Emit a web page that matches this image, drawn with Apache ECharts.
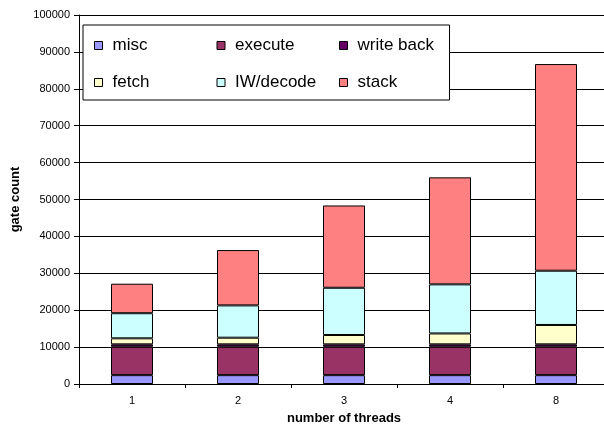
<!DOCTYPE html>
<html>
<head>
<meta charset="utf-8">
<script src="https://cdn.jsdelivr.net/npm/echarts@6/dist/echarts.min.js"></script>
<style>
  html, body { margin: 0; padding: 0; background: #fff; }
  #chart { width: 604px; height: 425px; }
</style>
</head>
<body>
<div id="chart"></div>
<script>
var threads = ['1', '2', '3', '4', '8'];
var misc = [2400, 2400, 2400, 2400, 2400];
var execute = [7700, 7700, 7700, 7700, 7700];
var writeBack = [650, 650, 650, 650, 650];
var fetch = [1630, 1800, 2530, 2950, 5250];
var iwDecode = [6800, 8750, 12800, 13300, 14700];
var stack = [8000, 15000, 22300, 29000, 56000];

var names = ['misc', 'execute', 'write back', 'fetch', 'IW/decode', 'stack'];
var colors = ['#9999ff', '#993366', '#660066', '#ffffcc', '#ccffff', '#ff8080'];
var values = [misc, execute, writeBack, fetch, iwDecode, stack];

var series = [];
for (var i = 0; i < names.length; i++) {
    series.push({
        name: names[i],
        type: 'bar',
        stack: 'total',
        barWidth: 42,
        data: values[i],
        itemStyle: {
            color: colors[i],
            borderColor: '#000',
            borderWidth: 1
        }
    });
}

var chart = echarts.init(document.getElementById('chart'));
chart.setOption({
    animation: false,
    textStyle: { fontFamily: 'Liberation Sans, Arial, sans-serif' },
    grid: { left: 79, right: -5, top: 15, bottom: 41, containLabel: false, outerBoundsMode: 'none' },
    legend: {
        data: names,
        left: 83,
        top: 25,
        width: 360,
        itemWidth: 8,
        itemHeight: 8,
        itemGap: 20,
        icon: 'rect',
        padding: [12, 8, 9, 11],
        backgroundColor: '#fff',
        borderColor: '#000',
        borderWidth: 1,
        borderRadius: 0,
        itemStyle: { borderColor: '#000', borderWidth: 1 },
        formatter: function (n) { return '{a|' + n + '}'; },
        textStyle: {
            rich: {
                a: {
                    fontSize: 17,
                    color: '#000',
                    width: 84,
                    lineHeight: 16,
                    padding: [0, 0, 0, 5],
                    fontFamily: 'Liberation Sans, Arial, sans-serif'
                }
            }
        }
    },
    xAxis: {
        type: 'category',
        data: threads,
        name: 'number of threads',
        nameLocation: 'middle',
        nameGap: 28,
        nameTextStyle: { fontSize: 13, fontWeight: 'bold', color: '#000' },
        axisLine: { lineStyle: { color: '#000', width: 1 } },
        axisTick: { show: true, length: 4, lineStyle: { color: '#000' } },
        axisLabel: { fontSize: 11, color: '#000', margin: 11 }
    },
    yAxis: {
        type: 'value',
        min: 0,
        max: 100000,
        interval: 10000,
        name: 'gate count',
        nameLocation: 'middle',
        nameGap: 56,
        nameTextStyle: { fontSize: 13, fontWeight: 'bold', color: '#000' },
        axisLine: { show: true, lineStyle: { color: '#000', width: 1 } },
        axisTick: { show: true, length: 5, lineStyle: { color: '#000' } },
        axisLabel: {
            fontSize: 11,
            color: '#000',
            margin: 9,
            formatter: function (v) { return String(v); }
        },
        splitLine: { show: true, lineStyle: { color: '#000', width: 1 } }
    },
    series: series
});
</script>
</body>
</html>
